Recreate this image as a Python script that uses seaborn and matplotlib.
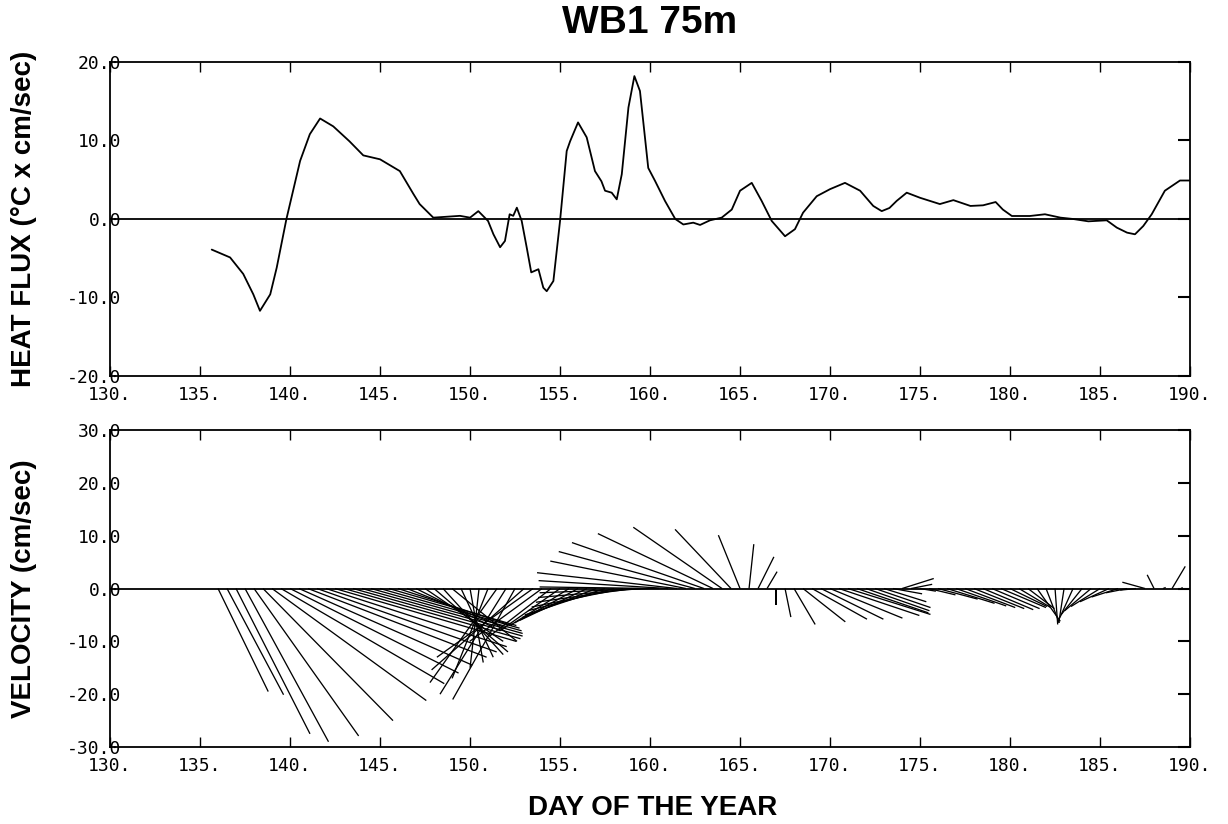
import numpy as np
import pandas as pd
import matplotlib
matplotlib.use('Agg')
import matplotlib.pyplot as plt
import seaborn as sns

# heat flux curve (day of year, degC x cm/sec)
flux_day = [135.65, 136.67, 137.4, 137.96, 138.33, 138.9, 139.26, 139.63, 139.8,
            140.56, 141.1, 141.67, 142.4, 143.3, 144.07, 145.0, 146.1, 146.85,
            147.2, 147.96, 149.44, 150.0, 150.46, 151.0, 151.3, 151.67, 151.94,
            152.2, 152.4, 152.6, 152.87, 153.15, 153.4, 153.8, 154.07, 154.26,
            154.63, 155.0, 155.37, 155.56, 156.0, 156.48, 156.94, 157.3, 157.5,
            157.87, 158.15, 158.43, 158.8, 159.13, 159.44, 159.9, 160.28, 160.83,
            161.4, 161.85, 162.4, 162.78, 163.33, 163.98, 164.54, 165.0, 165.65,
            166.2, 166.76, 167.5, 168.05, 168.5, 169.26, 170.0, 170.83, 171.67,
            172.4, 172.87, 173.3, 173.7, 174.26, 175.0, 176.1, 176.85, 177.8,
            178.5, 179.2, 179.6, 180.1, 181.1, 181.94, 182.8, 183.5, 184.35,
            185.37, 185.93, 186.5, 186.94, 187.4, 187.87, 188.6, 189.44, 189.96]
flux_val = [-3.9, -4.9, -7.0, -9.6, -11.7, -9.6, -6.2, -1.95, 0.0,
            7.4, 10.8, 12.8, 11.8, 9.9, 8.1, 7.6, 6.1, 3.2,
            1.9, 0.17, 0.4, 0.17, 1.0, -0.25, -1.95, -3.6, -2.8,
            0.6, 0.4, 1.44, -0.25, -3.65, -6.8, -6.4, -8.75, -9.2,
            -7.9, -0.25, 8.66, 9.9, 12.3, 10.4, 6.1, 4.8, 3.6,
            3.35, 2.5, 5.7, 14.2, 18.2, 16.3, 6.5, 4.84, 2.3,
            0.0, -0.7, -0.47, -0.76, -0.17, 0.17, 1.2, 3.6, 4.6,
            2.3, -0.25, -2.2, -1.3, 0.8, 2.9, 3.8, 4.6, 3.6,
            1.66, 1.0, 1.4, 2.3, 3.35, 2.7, 1.9, 2.4, 1.66,
            1.74, 2.16, 1.2, 0.38, 0.38, 0.6, 0.17, 0.0, -0.3,
            -0.17, -1.1, -1.74, -1.95, -0.9, 0.6, 3.6, 4.9, 4.9]

# velocity sticks every 12 hours (cm/sec)
stick_day = np.arange(136.0, 190.0, 0.5)
stick_u = [9.5, 10.7, 14.0, 15.8, 19.8, 24.6, 29.2, 30.9, 31.9, 32.8,
           33.8, 34.0, 34.2, 34.3, 33.4, 32.1, 30.4, 28.5, 26.4, 24.1,
           21.6, 18.8, 15.9, 14.8, 14.0, 11.4, 12.3, 6.1, 2.5, -1.7,
           -6.8, -12.7, -12.5, -11.8, -17.5, -18.2, -13.7, -11.6, -11.4, -11.2,
           -12.0, -12.7, -14.0, -15.2, -16.3, -17.3, -18.2, -19.5, -20.9, -22.6,
           -24.5, -26.5, -25.7, -25.8, -25.0, -21.8, -16.8, -10.6, -4.1, 0.9,
           3.0, 1.9, 0.0, 1.1, 4.0, 8.0, 10.4, 11.8, 13.7, 15.2,
           15.6, 13.5, 12.0, 10.5, 8.0, 5.5, 6.0, 4.0, 3.0, 5.0,
           7.5, 9.0, 9.5, 9.5, 9.5, 9.5, 9.0, 8.5, 7.0, 6.0,
           5.0, 4.4, 2.5, 0.5, -1.0, -2.5, -4.0, -5.0, -5.5, -5.5,
           -5.0, -4.0, -3.0, -4.3, -1.3, 0.5, 2.5, 0.3]
stick_v = [-19.5, -20.1, -27.5, -29.0, -27.9, -25.0, -21.2, -18.0, -16.0, -14.5,
           -13.0, -12.0, -11.0, -10.0, -9.5, -9.0, -8.5, -8.0, -7.5, -7.0,
           -7.0, -7.5, -8.0, -10.0, -12.0, -12.5, -10.0, -13.0, -14.0, -15.0,
           -17.0, -17.8, -20.0, -21.0, -15.4, -13.0, -10.0, -9.0, -8.0, -7.0,
           -6.5, -6.0, -5.5, -5.0, -4.2, -3.5, -2.6, -1.7, -0.8, 0.3,
           1.5, 3.0, 5.2, 7.0, 8.7, 10.4, 11.6, 11.2, 10.1, 8.4,
           6.0, 3.2, -3.2, -5.4, -6.8, -6.3, -5.8, -5.8, -5.6, -5.1,
           -4.9, -4.6, -4.2, -3.6, -2.5, -1.0, 1.9, 0.8, -0.5, -1.2,
           -2.0, -2.8, -3.3, -3.6, -3.8, -4.0, -3.8, -3.6, -3.4, -3.6,
           -3.8, -6.2, -6.5, -6.8, -6.5, -5.5, -5.0, -4.2, -3.4, -2.5,
           -1.6, -0.8, -0.3, 1.2, 2.6, 0.2, 4.2, 0.2]

day_ticks = list(range(130, 191, 5))
flux_ticks = [-20, -10, 0, 10, 20]
vel_ticks = [-30, -20, -10, 0, 10, 20, 30]

sns.set_style('white')
plt.rcParams['font.family'] = ['Liberation Sans', 'DejaVu Sans']
plt.rcParams.update({'text.color': 'black', 'axes.labelcolor': 'black',
                     'xtick.color': 'black', 'ytick.color': 'black'})

fig = plt.figure(figsize=(12.28, 8.24), dpi=100)
ax1 = fig.add_axes([0.0896, 0.5437, 0.8795, 0.3811])
ax2 = fig.add_axes([0.0896, 0.0934, 0.8795, 0.3847])

df = pd.DataFrame({'day': flux_day, 'flux': flux_val})
sns.lineplot(data=df, x='day', y='flux', ax=ax1, color='black', linewidth=1.3, estimator=None)
ax1.axhline(0, color='black', lw=1.3)

ax2.quiver(stick_day, np.zeros(len(stick_day)), stick_u, stick_v,
           angles='uv', scale_units='y', scale=1, units='dots', width=1.3,
           headwidth=0, headlength=0, headaxislength=0, pivot='tail', color='black')
ax2.axhline(0, color='black', lw=1.3)

tick_font = dict(family='DejaVu Sans Mono', size=13)
for ax, yt in [(ax1, flux_ticks), (ax2, vel_ticks)]:
    ax.set_xlim(130, 190)
    ax.set_ylim(yt[0], yt[-1])
    ax.set_xticks(day_ticks)
    ax.set_xticklabels([f'{d}.' for d in day_ticks], **tick_font)
    ax.set_yticks(yt)
    ax.set_yticklabels([f'{y:.1f}' for y in yt], **tick_font)
    ax.tick_params(axis='x', direction='in', length=7, width=1, top=True, bottom=True, pad=7)
    ax.tick_params(axis='y', direction='in', left=False, right=True, length=9, width=1.5, pad=-8)
    for s in ax.spines.values():
        s.set_linewidth(1.3)
        s.set_color('black')
    ax.set_xlabel('')

ax1.set_ylabel('HEAT FLUX (°C x cm/sec)', fontsize=20, fontweight='bold')
ax2.set_ylabel('VELOCITY (cm/sec)', fontsize=20, fontweight='bold')
ax1.yaxis.set_label_coords(-0.0676, 0.5)
ax2.yaxis.set_label_coords(-0.0676, 0.5)

fig.text(650 / 1228, 1 - 23 / 824, 'WB1 75m', ha='center', va='center', fontsize=28, fontweight='bold')
fig.text(653 / 1228, 1 - 808 / 824, 'DAY OF THE YEAR', ha='center', va='center', fontsize=20, fontweight='bold')

fig.savefig('out.png', dpi=100)
